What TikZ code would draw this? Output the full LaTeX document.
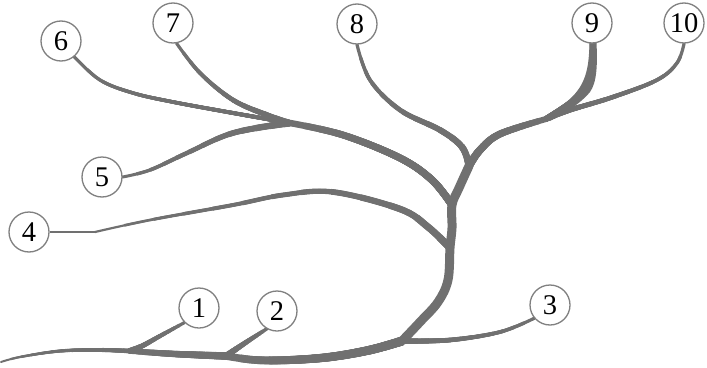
\documentclass[tikz,border=0pt]{standalone}
\usepackage{fontspec}
\setmainfont{Liberation Serif}
\definecolor{brc}{RGB}{112,112,112}
\definecolor{circ}{RGB}{128,128,128}
\pgfdeclarelayer{bg}
\pgfsetlayers{bg,main}
% tapered stroke: #1 start width, #2 end width, #3 approx length, #4 path
\newcommand\tapered[4]{%
  \draw[brc,line width=#1pt,line cap=round,line join=round] #4;
  \foreach \k in {1,...,12}{%
    \pgfmathsetmacro\ww{#1+(#2-#1)*\k/12}%
    \pgfmathsetmacro\dd{#3*\k/12.5}%
    \draw[brc,line width=\ww pt,dash pattern=on 0pt off \dd pt on 3000pt] #4;}%
}
\begin{document}
\begin{tikzpicture}[x=1pt,y=-1pt,
  leaf/.style={circle,draw=circ,line width=1.3pt,fill=white,minimum size=40pt,inner sep=0pt,font=\fontsize{28.5}{28.5}\selectfont},
  sm/.style={smooth,tension=0.6}]
\useasboundingbox (0,0) rectangle (707,367);
% leaves
\node[leaf] (n1) at (199,308) {1};
\node[leaf] (n2) at (277,311) {2};
\node[leaf] (n3) at (550,305) {3};
\node[leaf] (n4) at (29,232) {4};
\node[leaf] (n5) at (102,177) {5};
\node[leaf] (n6) at (61,41) {6};
\node[leaf] (n7) at (173,23) {7};
\node[leaf] (n8) at (357,24) {8};
\node[leaf] (n9) at (592,23) {9};
\node[leaf] (n10) at (684,23) {10};
% junctions
\coordinate (j567) at (290,123);
\coordinate (jtop) at (469,166);
\coordinate (j910) at (546,119);
\coordinate (jmid) at (452,205);
\coordinate (j4) at (450,248);
\coordinate (j3) at (402,341);
\coordinate (j2) at (226,356);
\coordinate (j1) at (129,351);
\begin{pgfonlayer}{bg}
% branch 6
\tapered{3.2}{4.2}{231}{plot[sm] coordinates {(n6.-50) (100,80) (133,93) (173,102) (233,113) (j567)}}
% branch 7
\tapered{3.2}{6}{143}{plot[sm] coordinates {(n7.-80) (200,73) (233,100) (267,115) (j567)}}
% branch 5
\tapered{3}{7}{178}{plot[sm] coordinates {(n5.0) (150,170) (187,153) (233,133) (j567)}}
% combined 5-6-7
\tapered{6.5}{7.5}{187}{plot[sm] coordinates {(j567) (343,135) (400,158) (432,180) (jmid)}}
% branch 8
\tapered{3.2}{7}{173}{plot[sm] coordinates {(n8.-90) (370,80) (400,110) (440,130) (462,147) (jtop)}}
% branch 10
\tapered{3.2}{5.5}{161}{plot[sm] coordinates {(n10.-90) (677,63) (657,80) (613,97) (570,110) (j910)}}
% branch 9
\tapered{5}{6}{94}{plot[sm] coordinates {(n9.-90) (591,75) (579,96) (j910)}}
\fill[brc] (589.5,42) .. controls (589,65) and (587,82) .. (572,97)
   .. controls (565,104) and (555,110) .. (546,116) -- (550,121)
   .. controls (565,113) and (580,104) .. (590,92)
   .. controls (597,82) and (597.5,65) .. (596.5,42) -- cycle;
% combined 9-10
\tapered{6}{8}{95}{plot[sm] coordinates {(j910) (500,134) (480,150) (jtop)}}
% trunk
\draw[brc,line width=9pt,line cap=round,line join=round] plot[sm] coordinates {(jtop) (459,188) (jmid) (452,228) (j4) (448,280) (438,302) (420,322) (j3)};
% branch 4
\draw[brc,line width=2pt] (n4.0) -- (95,232);
\tapered{2.2}{7.5}{375}{plot[sm] coordinates {(95,232) (150,220) (233,205) (283,195) (333,192) (400,209) (428,227) (j4)}}
% branch 3
\tapered{3.2}{5.5}{136}{plot[sm] coordinates {(n3.-140) (500,332) (450,340) (j3)}}
% bottom
\tapered{7.5}{9}{180}{plot[sm] coordinates {(j2) (255,360) (290,360) (330,357) (370,350) (j3)}}
\tapered{5.5}{7.5}{97}{plot[sm] coordinates {(j1) (175,354) (j2)}}
\tapered{2}{4.5}{128}{plot[sm] coordinates {(1,362) (20,357) (60,351) (100,350) (j1)}}
% branch 1
\tapered{3.2}{6}{70}{plot[sm] coordinates {(n1.-135) (160,336) (142,346) (j1)}}
% branch 2
\tapered{3.5}{6.5}{50}{plot[sm] coordinates {(n2.-120) (245,343) (j2)}}
\end{pgfonlayer}
\end{tikzpicture}
\end{document}
